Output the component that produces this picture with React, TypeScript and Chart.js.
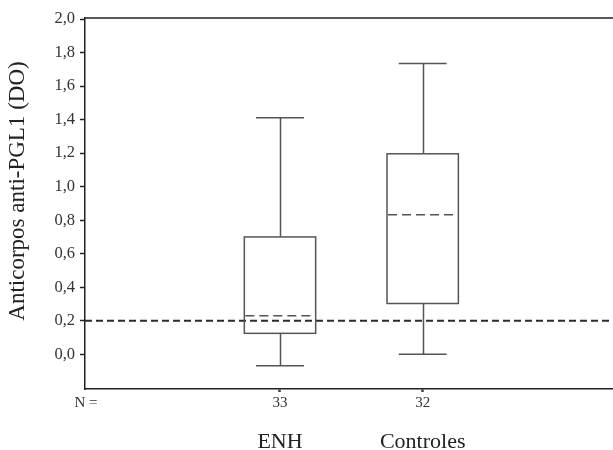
import React, { useEffect, useRef } from "react";
import { Chart, registerables } from "chart.js";

Chart.register(...registerables);

const categories = ["ENH", "Controles"];
const nCounts = ["33", "32"];
const whiskerLow = [-0.068, 0.0];
const q1 = [0.125, 0.303];
const median = [0.23, 0.832];
const q3 = [0.7, 1.196];
const whiskerHigh = [1.411, 1.735];
const cutoff = 0.2;
const yTicks = [0, 0.2, 0.4, 0.6, 0.8, 1.0, 1.2, 1.4, 1.6, 1.8, 2.0];
const yTitle = "Anticorpos anti-PGL1 (DO)";
const nPrefix = "N =";

const FONT = "'Liberation Serif', 'Times New Roman', serif";
const X_MIN = -0.3665;
const X_MAX = 3.3336;

const boxPlugin = {
  id: "boxPlugin",
  afterDatasetsDraw(chart: any) {
    const { ctx, chartArea, scales } = chart;
    const xs = scales.x;
    const ys = scales.y;
    const boxHalf = 0.25;
    const capHalf = 0.168;
    ctx.save();
    categories.forEach((_, i) => {
      const xv = i + 1;
      const xc = Math.round(xs.getPixelForValue(xv)) + 0.5;
      const xl = xs.getPixelForValue(xv - boxHalf);
      const xr = xs.getPixelForValue(xv + boxHalf);
      const cl = xs.getPixelForValue(xv - capHalf);
      const cr = xs.getPixelForValue(xv + capHalf);
      const yLo = ys.getPixelForValue(whiskerLow[i]);
      const yQ1 = ys.getPixelForValue(q1[i]);
      const yMed = ys.getPixelForValue(median[i]);
      const yQ3 = ys.getPixelForValue(q3[i]);
      const yHi = ys.getPixelForValue(whiskerHigh[i]);
      ctx.strokeStyle = "#555";
      ctx.lineWidth = 1.5;
      ctx.setLineDash([]);
      ctx.beginPath();
      ctx.moveTo(xc, yHi);
      ctx.lineTo(xc, yQ3);
      ctx.moveTo(xc, yQ1);
      ctx.lineTo(xc, yLo);
      ctx.moveTo(cl, yHi);
      ctx.lineTo(cr, yHi);
      ctx.moveTo(cl, yLo);
      ctx.lineTo(cr, yLo);
      ctx.stroke();
      ctx.strokeRect(xl, yQ3, xr - xl, yQ1 - yQ3);
      ctx.setLineDash([9, 5]);
      ctx.beginPath();
      ctx.moveTo(xl + 1, yMed);
      ctx.lineTo(xr - 2, yMed);
      ctx.stroke();
    });
    ctx.setLineDash([]);
    // top frame line
    ctx.strokeStyle = "#222";
    ctx.lineWidth = 1.5;
    ctx.beginPath();
    ctx.moveTo(chartArea.left, chartArea.top);
    ctx.lineTo(chartArea.right, chartArea.top);
    ctx.stroke();
    // "N =" label
    ctx.fillStyle = "#333";
    ctx.font = `15px ${FONT}`;
    ctx.textAlign = "center";
    ctx.textBaseline = "middle";
    ctx.fillText(nPrefix, chartArea.left + 1, chartArea.bottom + 14);
    // y title
    ctx.save();
    ctx.translate(18, 191);
    ctx.rotate(-Math.PI / 2);
    ctx.font = `23px ${FONT}`;
    ctx.fillStyle = "#222";
    ctx.textAlign = "center";
    ctx.textBaseline = "middle";
    ctx.fillText(yTitle, 0, 0);
    ctx.restore();
    ctx.restore();
  },
};

export default function App() {
  const ref = useRef<HTMLCanvasElement | null>(null);
  useEffect(() => {
    if (!ref.current) return;
    const chart = new Chart(ref.current, {
      type: "scatter",
      data: {
        datasets: [
          {
            data: [
              { x: X_MIN, y: cutoff },
              { x: X_MAX, y: cutoff },
            ],
            showLine: true,
            borderColor: "#2a2a2a",
            borderWidth: 2,
            borderDash: [7, 4],
            pointRadius: 0,
          },
        ],
      },
      options: {
        animation: false,
        responsive: true,
        maintainAspectRatio: false,
        layout: { padding: { top: 18, left: 0, right: 0, bottom: 0 } },
        plugins: { legend: { display: false }, tooltip: { enabled: false } },
        scales: {
          x: {
            type: "linear",
            position: "bottom",
            weight: 0,
            min: X_MIN,
            max: X_MAX,
            afterBuildTicks: (s: any) => {
              s.ticks = categories.map((_, i) => ({ value: i + 1 }));
            },
            afterFit: (s: any) => {
              s.height = 25;
            },
            ticks: {
              autoSkip: false,
              maxRotation: 0,
              padding: 2,
              color: "#333",
              font: { family: FONT, size: 15 },
              callback: (_v: any, i: number) => nCounts[i],
            },
            grid: {
              drawOnChartArea: false,
              drawTicks: true,
              tickLength: 3,
              tickWidth: 2.5,
              tickColor: "#444",
            },
            border: { display: true, color: "#222", width: 1.5 },
          },
          x2: {
            type: "linear",
            position: "bottom",
            weight: 1,
            min: X_MIN,
            max: X_MAX,
            afterBuildTicks: (s: any) => {
              s.ticks = categories.map((_, i) => ({ value: i + 1 }));
            },
            afterFit: (s: any) => {
              s.height = 36;
            },
            ticks: {
              autoSkip: false,
              maxRotation: 0,
              padding: 15,
              color: "#222",
              font: { family: FONT, size: 22 },
              callback: (_v: any, i: number) => categories[i],
            },
            grid: { display: false, drawTicks: false },
            border: { display: false },
          },
          y: {
            type: "linear",
            min: -0.207,
            max: 2.006,
            afterBuildTicks: (s: any) => {
              s.ticks = yTicks.map((v) => ({ value: v }));
            },
            afterFit: (s: any) => {
              s.width = 85;
            },
            ticks: {
              padding: 5,
              color: "#333",
              font: { family: FONT, size: 16.5 },
              callback: (v: any) => Number(v).toFixed(1).replace(".", ","),
            },
            grid: {
              drawOnChartArea: false,
              drawTicks: true,
              tickLength: 5,
              tickWidth: 1.5,
              tickColor: "#222",
            },
            border: { display: true, color: "#222", width: 1.5 },
          },
        },
      },
      plugins: [boxPlugin],
    } as any);
    return () => chart.destroy();
  }, []);
  return (
    <div style={{ position: "absolute", left: 0, top: 0, width: 613, height: 450 }}>
      <canvas ref={ref} />
    </div>
  );
}
